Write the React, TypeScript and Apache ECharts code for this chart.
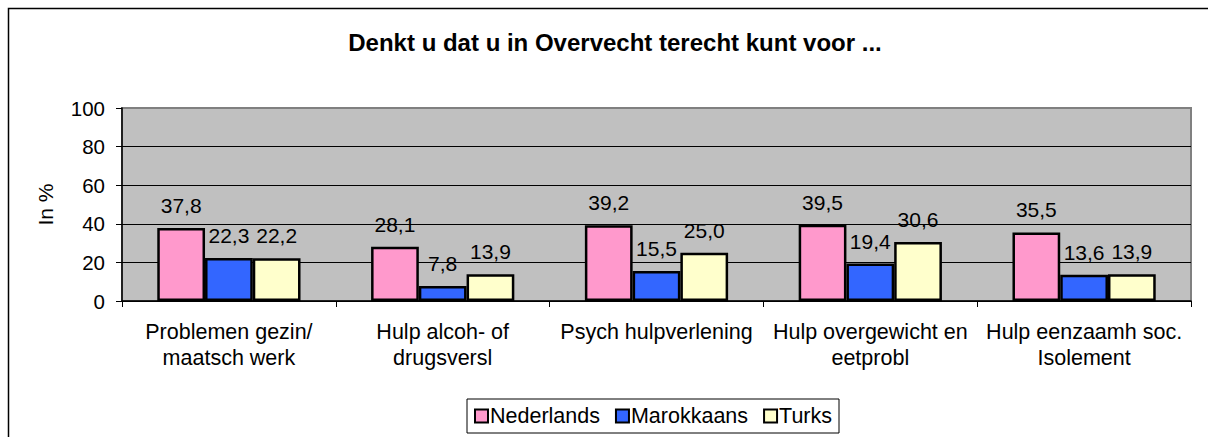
import React, { useEffect, useRef } from "react";
import * as echarts from "echarts";

const categories = [
  "Problemen gezin/\nmaatsch werk",
  "Hulp alcoh- of\ndrugsversl",
  "Psych hulpverlening",
  "Hulp overgewicht en\neetprobl",
  "Hulp eenzaamh soc.\nIsolement",
];
const nederlands = [37.8, 28.1, 39.2, 39.5, 35.5];
const marokkaans = [22.3, 7.8, 15.5, 19.4, 13.6];
const turks = [22.2, 13.9, 25.0, 30.6, 13.9];
const seriesNames = ["Nederlands", "Marokkaans", "Turks"];
const seriesColors = ["#ff99cc", "#3366ff", "#ffffcc"];
const yTicks = { min: 0, max: 100, interval: 20 };
const titleText = "Denkt u dat u in Overvecht terecht kunt voor ...";
const yName = "In %";

const FONT = "'Liberation Sans', Arial, sans-serif";

export default function App() {
  const ref = useRef<HTMLDivElement>(null);
  useEffect(() => {
    if (!ref.current) return;
    const chart = echarts.init(ref.current, null, { renderer: "svg" });
    const fmt = (p: any) => Number(p.value).toFixed(1).replace(".", ",");
    const data = [nederlands, marokkaans, turks];
    chart.setOption({
      animation: false,
      backgroundColor: "#ffffff",
      textStyle: { fontFamily: FONT },
      title: {
        text: titleText,
        left: 610,
        top: 25,
        textAlign: "center",
        textStyle: { fontFamily: FONT, fontSize: 24, fontWeight: "bold", color: "#000" },
      },
      graphic: [
        {
          type: "rect",
          shape: { x: 8.5, y: 8.5, width: 1400, height: 600 },
          style: { fill: "none", stroke: "#000", lineWidth: 1.5 },
          silent: true,
          z: -10,
        },
      ],
      legend: {
        data: seriesNames,
        left: 467,
        top: 399,
        orient: "horizontal",
        itemWidth: 13,
        itemHeight: 13,
        itemGap: 15,
        padding: [6, 7, 6, 7],
        backgroundColor: "#fff",
        borderColor: "#000",
        borderWidth: 1,
        borderRadius: 0,
        icon: "rect",
        textStyle: { fontFamily: FONT, fontSize: 21.5, color: "#000", padding: [0, 0, 0, -3], lineHeight: 22 },
      },
      grid: {
        left: 122,
        right: 17,
        top: 108,
        bottom: 136,
        show: true,
        backgroundColor: "#c0c0c0",
        borderColor: "#808080",
        borderWidth: 2,
        containLabel: false,
      },
      xAxis: {
        type: "category",
        data: categories,
        axisLine: { show: true, lineStyle: { color: "#000", width: 1.5 } },
        axisTick: { show: true, inside: false, length: 6, alignWithLabel: false, lineStyle: { color: "#000", width: 1 } },
        axisLabel: {
          interval: 0,
          margin: 18,
          fontFamily: FONT,
          fontSize: 21.5,
          lineHeight: 26,
          color: "#000",
        },
        splitLine: { show: false },
      },
      yAxis: {
        type: "value",
        min: yTicks.min,
        max: yTicks.max,
        interval: yTicks.interval,
        name: yName,
        nameLocation: "middle",
        nameGap: 66,
        nameRotate: 90,
        nameTextStyle: { fontFamily: FONT, fontSize: 21, color: "#000" },
        axisLine: { show: true, lineStyle: { color: "#000", width: 1.5 } },
        axisTick: { show: true, inside: false, length: 6, lineStyle: { color: "#000", width: 1 } },
        axisLabel: { margin: 17, fontFamily: FONT, fontSize: 20.5, color: "#000" },
        splitLine: {
          show: true,
          lineStyle: { color: ["#000", "#000", "#000", "#000", "#000", "#808080"], width: 1 },
        },
      },
      series: seriesNames.map((name, i) => ({
        name,
        type: "bar",
        data: data[i],
        barGap: "0%",
        barCategoryGap: "33%",
        itemStyle: { color: seriesColors[i], borderColor: "#000", borderWidth: 2.5 },
        label: {
          show: true,
          position: "top",
          distance: 12,
          formatter: fmt,
          fontFamily: FONT,
          fontSize: 21,
          color: "#000",
        },
      })),
    });
    return () => chart.dispose();
  }, []);
  return (
    <div
      ref={ref}
      style={{ position: "absolute", left: 0, top: 0, width: 1208, height: 437 }}
    />
  );
}
